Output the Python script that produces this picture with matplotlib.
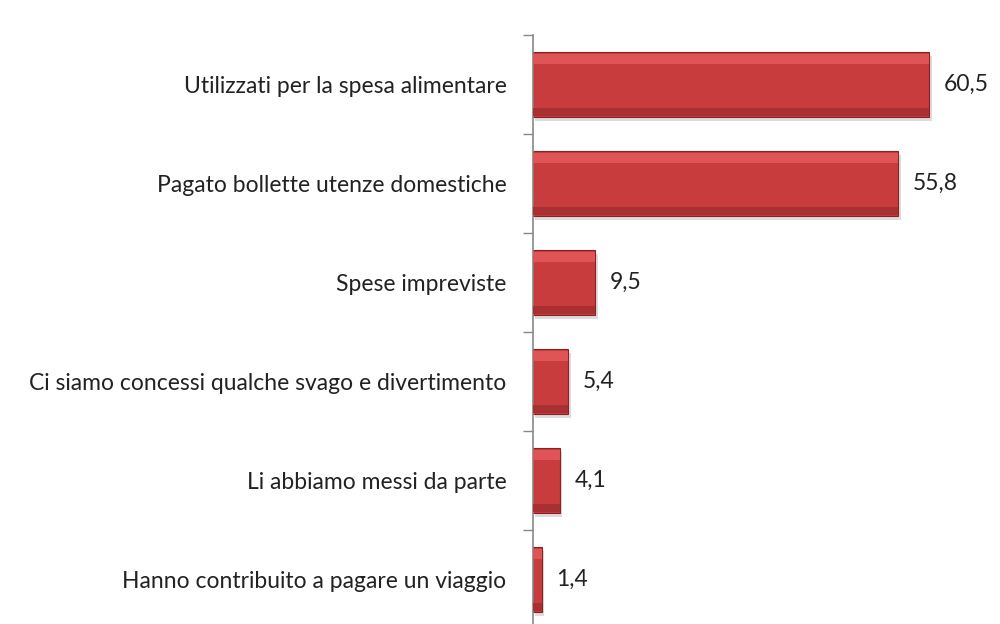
import numpy as np
import matplotlib.pyplot as plt

categorie = [
    "Utilizzati per la spesa alimentare",
    "Pagato bollette utenze domestiche",
    "Spese impreviste",
    "Ci siamo concessi qualche svago e divertimento",
    "Li abbiamo messi da parte",
    "Hanno contribuito a pagare un viaggio",
]
valori = [60.5, 55.8, 9.5, 5.4, 4.1, 1.4]
etichette = ["60,5", "55,8", "9,5", "5,4", "4,1", "1,4"]

plt.rcParams["font.family"] = ["Lato", "DejaVu Sans"]

fig = plt.figure(figsize=(10, 6.24), dpi=100)
ax = fig.add_axes([0.533, -0.008, 0.467, 0.952])

y = np.arange(len(categorie))
h = 0.65

# ombra
ax.barh(y + 0.04, valori, height=h, left=0.35, color="#dcdcdc", zorder=1)
# barra principale
ax.barh(y, valori, height=h, color="#c83c3e", edgecolor="#8a2224",
        linewidth=0.8, zorder=2)
# riflesso superiore
ax.barh(y - h / 2 + 0.07, valori, height=0.10, color="#df5456", zorder=3)
# parte inferiore scura
ax.barh(y + h / 2 - 0.05, valori, height=0.08, color="#a83032", zorder=3)

for yi, v, lab in zip(y, valori, etichette):
    ax.text(v + 2.2, yi, lab, va="center", ha="left", fontsize=16.5,
            color="#222222")

ax.set_xlim(0, 71.3)
ax.set_ylim(len(categorie) - 0.5, -0.5)
ax.set_xticks([])
ax.set_yticks(y)
ax.set_yticklabels(categorie, fontsize=16.5, color="#222222")
ax.set_yticks(np.arange(len(categorie) + 1) - 0.5, minor=True)
ax.tick_params(axis="y", which="major", length=0, pad=19)
ax.tick_params(axis="y", which="minor", length=7, color="#888888", width=1)

for s in ["top", "right", "bottom"]:
    ax.spines[s].set_visible(False)
ax.spines["left"].set_color("#888888")
ax.spines["left"].set_linewidth(1.2)

fig.savefig("out.png", dpi=100)
